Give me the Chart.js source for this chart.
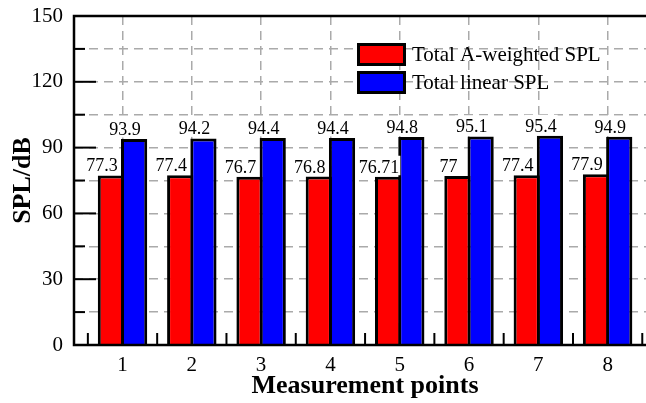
<!DOCTYPE html>
<html>
<head>
<meta charset="utf-8">
<script src="https://cdn.jsdelivr.net/npm/chart.js@4.4.1/dist/chart.umd.min.js"></script>
<style>
html,body{margin:0;padding:0;background:#fff;overflow:hidden;}
#wrap{width:660px;height:403px;}
</style>
</head>
<body>
<div id="wrap"><canvas id="c" width="660" height="403"></canvas></div>
<script>
const categories = ['1','2','3','4','5','6','7','8'];
const seriesNames = ['Total A-weighted SPL', 'Total linear SPL'];
const aWeighted = [77.3, 77.4, 76.7, 76.8, 76.71, 77, 77.4, 77.9];
const linear = [93.9, 94.2, 94.4, 94.4, 94.8, 95.1, 95.4, 94.9];
const yTickLabels = [0, 30, 60, 90, 120, 150];

const SERIF = '"Liberation Serif", "Times New Roman", serif';

const toPoints = arr => arr.map((v, i) => ({x: Number(categories[i]), y: v}));

const decor = {
  id: 'decor',
  beforeDatasetsDraw(chart) {
    const {ctx, chartArea: a, scales: {x, y}} = chart;
    ctx.save();
    ctx.strokeStyle = '#000';
    ctx.lineWidth = 2;
    for (let v = 0; v <= 150; v += 15) {
      const py = y.getPixelForValue(v);
      const len = yTickLabels.includes(v) ? 22 : 11;
      ctx.beginPath(); ctx.moveTo(a.left, py); ctx.lineTo(a.left + len, py); ctx.stroke();
    }
    for (let k = 1; k <= 17; k++) {
      const v = k / 2;
      const px = x.getPixelForValue(v);
      if (px < a.left || px > a.right) continue;
      const len = (k % 2 === 0) ? 22 : 12;
      ctx.beginPath(); ctx.moveTo(px, a.bottom); ctx.lineTo(px, a.bottom - len); ctx.stroke();
    }
    ctx.restore();
  },
  afterDatasetsDraw(chart) {
    const {ctx, chartArea: a} = chart;
    ctx.save();
    ctx.font = '18px ' + SERIF;
    ctx.textAlign = 'center';
    ctx.textBaseline = 'alphabetic';
    const sets = [aWeighted, linear];
    sets.forEach((arr, di) => {
      const meta = chart.getDatasetMeta(di);
      meta.data.forEach((bar, i) => {
        const txt = String(arr[i]);
        const w = ctx.measureText(txt).width;
        const cx = bar.x - 9;
        const base = bar.y - 4;
        ctx.fillStyle = '#fff';
        ctx.fillRect(cx - w / 2 - 1, base - 17, w + 2, bar.y - (base - 17) - 1.5);
        ctx.fillStyle = '#000';
        ctx.fillText(txt, cx, base);
      });
    });
    ctx.strokeStyle = '#000';
    ctx.lineWidth = 2.5;
    ctx.beginPath();
    ctx.moveTo(a.right, a.top);
    ctx.lineTo(a.left, a.top);
    ctx.lineTo(a.left, a.bottom);
    ctx.lineTo(a.right, a.bottom);
    ctx.stroke();
    const colors = ['#ff0000', '#0000ff'];
    const sw = [{x: 357, y: 43}, {x: 357, y: 71}];
    ctx.font = '21px ' + SERIF;
    ctx.textAlign = 'left';
    ctx.textBaseline = 'middle';
    seriesNames.forEach((name, i) => {
      ctx.fillStyle = '#000';
      ctx.fillRect(sw[i].x, sw[i].y, 49, 23);
      ctx.fillStyle = colors[i];
      ctx.fillRect(sw[i].x + 3, sw[i].y + 3, 43, 17);
      ctx.fillStyle = '#000';
      ctx.fillText(name, 412, sw[i].y + 12);
    });
    ctx.restore();
  }
};

new Chart(document.getElementById('c'), {
  type: 'bar',
  data: {
    datasets: [
      {label: seriesNames[0], data: toPoints(aWeighted), backgroundColor: '#ff0000', borderColor: '#000', borderWidth: 3, borderSkipped: 'bottom'},
      {label: seriesNames[1], data: toPoints(linear), backgroundColor: '#0000ff', borderColor: '#000', borderWidth: 3, borderSkipped: 'bottom'}
    ]
  },
  options: {
    responsive: false,
    animation: false,
    devicePixelRatio: 1,
    categoryPercentage: 0.67,
    barPercentage: 1.13,
    layout: {padding: {top: 16, left: 0, right: 4, bottom: 0}},
    plugins: {legend: {display: false}, tooltip: {enabled: false}},
    scales: {
      x: {
        type: 'linear',
        offset: false,
        min: 0.3,
        max: 8.698,
        afterBuildTicks(scale) { scale.ticks = categories.map(c => ({value: Number(c)})); },
        afterFit(scale) { scale.height = 58; scale.paddingLeft = 0; scale.paddingRight = 0; },
        ticks: {
          callback: v => String(v),
          font: {family: SERIF, size: 21},
          color: '#000',
          padding: 8,
          maxRotation: 0,
          autoSkip: false
        },
        grid: {color: '#aaaaaa', lineWidth: 1.5, drawTicks: false, offset: false},
        border: {display: false, dash: [9, 6]},
        title: {display: true, text: 'Measurement points', font: {family: SERIF, size: 26, weight: 'bold'}, color: '#000', padding: {top: 0, bottom: 1}}
      },
      y: {
        type: 'linear',
        min: 0,
        max: 150,
        afterBuildTicks(scale) {
          const t = [];
          for (let v = 0; v <= 150; v += 15) t.push({value: v});
          scale.ticks = t;
        },
        afterFit(scale) { scale.width = 74; scale.paddingTop = 0; scale.paddingBottom = 0; },
        ticks: {
          callback: v => (yTickLabels.includes(v) ? String(v) : ''),
          font: {family: SERIF, size: 21},
          color: '#000',
          padding: 11
        },
        grid: {color: '#aaaaaa', lineWidth: 1.5, drawTicks: false},
        border: {display: false, dash: [9, 6]},
        title: {display: true, text: 'SPL/dB', font: {family: SERIF, size: 26, weight: 'bold'}, color: '#000', padding: {top: 8, bottom: 0}}
      }
    }
  },
  plugins: [decor]
});
</script>
</body>
</html>
